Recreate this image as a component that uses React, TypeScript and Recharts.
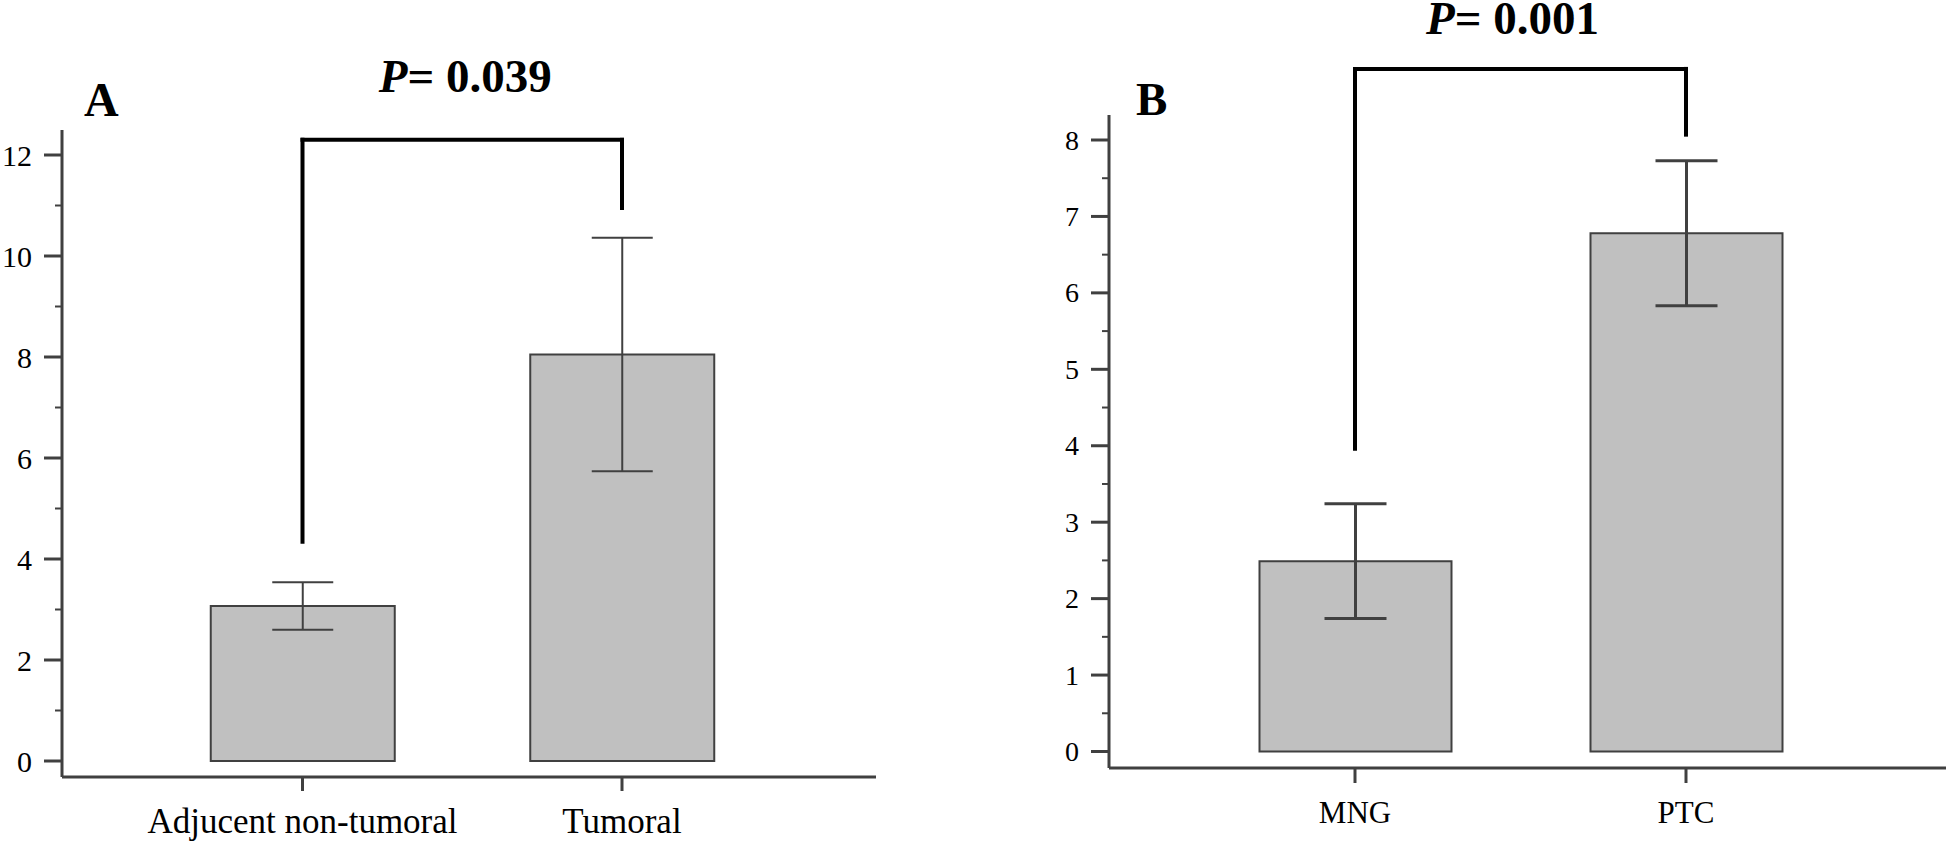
import React from 'react';
import { BarChart, Bar, XAxis, YAxis, ErrorBar, ReferenceLine } from 'recharts';

// ---------- Panel A data ----------
const categoriesA = ['Adjucent non-tumoral', 'Tumoral'];
const meansA = [3.07, 8.05];
const errorsA = [0.47, 2.31];
const yTicksA = [0, 1, 2, 3, 4, 5, 6, 7, 8, 9, 10, 11, 12];
const majorTicksA = [0, 2, 4, 6, 8, 10, 12];
const bracketTopA = 12.3;
const bracketLeftEndA = 4.34;
const bracketRightEndA = 10.95;
const pValueA = '0.039';

// ---------- Panel B data ----------
const categoriesB = ['MNG', 'PTC'];
const meansB = [2.49, 6.78];
const errorsB = [0.75, 0.95];
const yTicksB = [0, 0.5, 1, 1.5, 2, 2.5, 3, 3.5, 4, 4.5, 5, 5.5, 6, 6.5, 7, 7.5, 8];
const majorTicksB = [0, 1, 2, 3, 4, 5, 6, 7, 8];
const bracketTopB = 8.93;
const bracketLeftEndB = 3.96;
const bracketRightEndB = 8.07;
const pValueB = '0.001';

const dataA = categoriesA.map((name, i) => ({ name, value: meansA[i], err: errorsA[i] }));
const dataB = categoriesB.map((name, i) => ({ name, value: meansB[i], err: errorsB[i] }));

const FONT = '"Liberation Serif", "Times New Roman", Times, serif';
const AXIS = '#404040';
const FILL = '#c0c0c0';

const makeYTick = (majors: number[], fontSize: number, tickSize: number, tickMargin: number, minorLen: number) =>
  (props: any) => {
    const { x, y, payload } = props;
    const axisX = x + tickSize + tickMargin;
    const isMajor = majors.includes(payload.value);
    return (
      <g>
        <line
          x1={axisX - (isMajor ? tickSize : minorLen)}
          x2={axisX}
          y1={y}
          y2={y}
          stroke={AXIS}
          strokeWidth={isMajor ? 3 : 2}
        />
        {isMajor && (
          <text x={x} y={y} textAnchor="end" dominantBaseline="central" fontSize={fontSize} fontFamily={FONT} fill="#000">
            {payload.value}
          </text>
        )}
      </g>
    );
  };

const makeXTick = (fontSize: number, dy: number) => (props: any) => {
  const { x, y, payload } = props;
  return (
    <text x={x} y={y} dy={dy} textAnchor="middle" fontSize={fontSize} fontFamily={FONT} fill="#000">
      {payload.value}
    </text>
  );
};

const PLabel = (props: any) => {
  const vb = props.viewBox || {};
  const cx = (vb.x || 0) + (vb.width || 0) / 2 + (props.shift || 0);
  return (
    <text x={cx} y={(vb.y || 0) - props.gap} textAnchor="middle" fontFamily={FONT} fontWeight="bold" fontSize={47} fill="#000">
      <tspan fontStyle="italic">P</tspan>= {props.p}
    </text>
  );
};

const bracketStyle = { stroke: '#000', strokeWidth: 4, strokeLinecap: 'square' as const };

export default function App() {
  return (
    <div style={{ position: 'absolute', left: 0, top: 0, width: 1946, height: 841, background: '#fff', overflow: 'hidden' }}>
      <div style={{ position: 'absolute', left: 0, top: 0 }}>
        <BarChart width={960} height={841} data={dataA} margin={{ top: 130, right: 84, bottom: 0, left: 0 }}>
          <XAxis
            dataKey="name"
            height={64}
            interval={0}
            padding={{ left: 80.75, right: 94.25 }}
            axisLine={{ stroke: AXIS, strokeWidth: 3 }}
            tickLine={{ stroke: AXIS, strokeWidth: 3 }}
            tickSize={14}
            tickMargin={10}
            tick={makeXTick(35, 32)}
          />
          <YAxis
            type="number"
            domain={[0, 12]}
            ticks={yTicksA}
            interval={0}
            width={62}
            padding={{ top: 25, bottom: 16 }}
            axisLine={{ stroke: AXIS, strokeWidth: 3 }}
            tickLine={false}
            tickSize={18}
            tickMargin={12}
            tick={makeYTick(majorTicksA, 30, 18, 12, 7)}
          />
          <Bar dataKey="value" fill={FILL} stroke={AXIS} strokeWidth={2} barSize={184} isAnimationActive={false}>
            <ErrorBar dataKey="err" width={30.5} stroke={AXIS} strokeWidth={2} isAnimationActive={false} />
          </Bar>
          <ReferenceLine
            ifOverflow="visible"
            segment={[{ x: categoriesA[0], y: bracketTopA }, { x: categoriesA[1], y: bracketTopA }]}
            {...bracketStyle}
            label={<PLabel p={pValueA} gap={48} shift={3} />}
          />
          <ReferenceLine
            ifOverflow="visible"
            segment={[{ x: categoriesA[0], y: bracketTopA }, { x: categoriesA[0], y: bracketLeftEndA }]}
            {...bracketStyle}
          />
          <ReferenceLine
            ifOverflow="visible"
            segment={[{ x: categoriesA[1], y: bracketTopA }, { x: categoriesA[1], y: bracketRightEndA }]}
            {...bracketStyle}
          />
        </BarChart>
      </div>
      <div style={{ position: 'absolute', left: 980, top: 0 }}>
        <BarChart width={966} height={841} data={dataB} margin={{ top: 115, right: 0, bottom: 0, left: 0 }}>
          <XAxis
            dataKey="name"
            height={73}
            interval={0}
            padding={{ left: 80.5, right: 94.5 }}
            axisLine={{ stroke: AXIS, strokeWidth: 3 }}
            tickLine={{ stroke: AXIS, strokeWidth: 3 }}
            tickSize={15}
            tickMargin={10}
            tick={makeXTick(31, 30)}
          />
          <YAxis
            type="number"
            domain={[0, 8]}
            ticks={yTicksB}
            interval={0}
            width={129}
            padding={{ top: 25, bottom: 16.5 }}
            axisLine={{ stroke: AXIS, strokeWidth: 3 }}
            tickLine={false}
            tickSize={18}
            tickMargin={12}
            tick={makeYTick(majorTicksB, 28, 18, 12, 7)}
          />
          <Bar dataKey="value" fill={FILL} stroke={AXIS} strokeWidth={2} barSize={192} isAnimationActive={false}>
            <ErrorBar dataKey="err" width={31} stroke={AXIS} strokeWidth={3} isAnimationActive={false} />
          </Bar>
          <ReferenceLine
            ifOverflow="visible"
            segment={[{ x: categoriesB[0], y: bracketTopB }, { x: categoriesB[1], y: bracketTopB }]}
            {...bracketStyle}
            label={<PLabel p={pValueB} gap={35} shift={-8} />}
          />
          <ReferenceLine
            ifOverflow="visible"
            segment={[{ x: categoriesB[0], y: bracketTopB }, { x: categoriesB[0], y: bracketLeftEndB }]}
            {...bracketStyle}
          />
          <ReferenceLine
            ifOverflow="visible"
            segment={[{ x: categoriesB[1], y: bracketTopB }, { x: categoriesB[1], y: bracketRightEndB }]}
            {...bracketStyle}
          />
        </BarChart>
      </div>
      <svg width={1946} height={841} style={{ position: 'absolute', left: 0, top: 0, pointerEvents: 'none' }}>
        <text x={84} y={116} fontFamily={FONT} fontWeight="bold" fontSize={48} fill="#000">A</text>
        <text x={1136} y={115} fontFamily={FONT} fontWeight="bold" fontSize={47} fill="#000">B</text>
      </svg>
    </div>
  );
}
